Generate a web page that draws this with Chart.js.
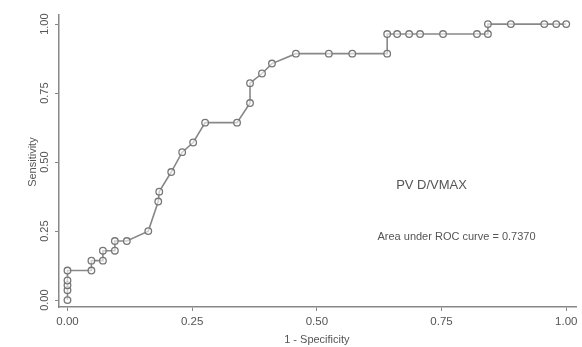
<!DOCTYPE html>
<html>
<head>
<meta charset="utf-8">
<script src="https://cdn.jsdelivr.net/npm/chart.js@4.4.1/dist/chart.umd.min.js"></script>
<style>
  html, body { margin: 0; padding: 0; background: #fff; }
  #wrap { width: 582px; height: 347px; position: relative; }
</style>
</head>
<body>
<div id="wrap"><canvas id="roc"></canvas></div>
<script>
// ── ROC curve points (1 - specificity, sensitivity) ─────────────────────────
const specX = [0, 0, 0, 0, 0, 0.048, 0.048, 0.071, 0.071, 0.095, 0.095, 0.119, 0.162,
  0.182, 0.184, 0.208, 0.230, 0.252, 0.276, 0.340, 0.366, 0.366, 0.390, 0.410, 0.458,
  0.524, 0.571, 0.641, 0.641, 0.661, 0.685, 0.707, 0.753, 0.821, 0.843, 0.843, 0.889,
  0.956, 0.980, 1.0];
const sensY = [0, 0.036, 0.054, 0.071, 0.107, 0.107, 0.143, 0.143, 0.179, 0.179, 0.214, 0.214, 0.250,
  0.357, 0.393, 0.464, 0.536, 0.571, 0.643, 0.643, 0.714, 0.786, 0.821, 0.857, 0.893,
  0.893, 0.893, 0.893, 0.964, 0.964, 0.964, 0.964, 0.964, 0.964, 0.964, 1.0, 1.0,
  1.0, 1.0, 1.0];
const tickVals = [0, 0.25, 0.5, 0.75, 1];
const tickLabels = ["0.00", "0.25", "0.50", "0.75", "1.00"];
const curveName = "PV D/VMAX";
const aucText = "Area under ROC curve = 0.7370";

const GREY = "#888";
const TXT = "#555";
const FONT = "'Liberation Sans', Arial, sans-serif";

// Stata-style labels: rotated y ticks, axis titles, annotations
const stataText = {
  id: "stataText",
  afterDraw(c) {
    const { ctx, scales: { x, y } } = c;
    ctx.save();
    ctx.fillStyle = TXT;
    ctx.textAlign = "center";
    ctx.textBaseline = "middle";
    // y tick labels, rotated
    ctx.font = "11px " + FONT;
    tickVals.forEach((v, i) => {
      ctx.save();
      ctx.translate(45, y.getPixelForValue(v));
      ctx.rotate(-Math.PI / 2);
      ctx.fillText(tickLabels[i], 0, 0);
      ctx.restore();
    });
    // y title
    ctx.save();
    ctx.translate(33, y.getPixelForValue(0.5));
    ctx.rotate(-Math.PI / 2);
    ctx.font = "11px " + FONT;
    ctx.fillText("Sensitivity", 0, 0);
    ctx.restore();
    // x title
    ctx.font = "11px " + FONT;
    ctx.fillText("1 - Specificity", x.getPixelForValue(0.5), 340);
    // annotations
    ctx.font = "13px " + FONT;
    ctx.fillText(curveName, x.getPixelForValue(0.73), y.getPixelForValue(0.415));
    ctx.font = "11px " + FONT;
    ctx.fillText(aucText, x.getPixelForValue(0.78), y.getPixelForValue(0.23));
    ctx.restore();
  }
};

new Chart(document.getElementById("roc"), {
  type: "scatter",
  data: {
    datasets: [{
      data: specX.map((v, i) => ({ x: v, y: sensY[i] })),
      showLine: true,
      borderColor: GREY,
      borderWidth: 1.6,
      pointRadius: 3.3,
      pointBorderWidth: 1.3,
      pointBorderColor: "#777",
      pointBackgroundColor: "rgba(255,255,255,0.6)",
    }],
  },
  options: {
    responsive: true, maintainAspectRatio: false, animation: false,
    layout: { padding: { top: 15, right: 5, left: 0, bottom: 0 } },
    plugins: { legend: { display: false }, tooltip: { enabled: false } },
    scales: {
      x: {
        type: "linear", min: -0.017, max: 1.021,
        afterBuildTicks: s => { s.ticks = tickVals.map(v => ({ value: v })); },
        afterFit: s => { s.height = 40; },
        grid: { drawOnChartArea: false, drawTicks: true, tickLength: 4, color: GREY, lineWidth: 1 },
        border: { display: true, color: GREY, width: 1.5 },
        ticks: { color: TXT, font: { family: FONT, size: 11.5 }, padding: 4,
          callback: v => tickLabels[tickVals.indexOf(v)] ?? "" },
      },
      y: {
        type: "linear", min: -0.025, max: 1.033,
        afterBuildTicks: s => { s.ticks = tickVals.map(v => ({ value: v })); },
        afterFit: s => { s.width = 59; },
        grid: { drawOnChartArea: false, drawTicks: true, tickLength: 4, color: GREY, lineWidth: 1 },
        border: { display: true, color: GREY, width: 1.5 },
        ticks: { display: false },
      },
    },
  },
  plugins: [stataText],
});
</script>
</body>
</html>
